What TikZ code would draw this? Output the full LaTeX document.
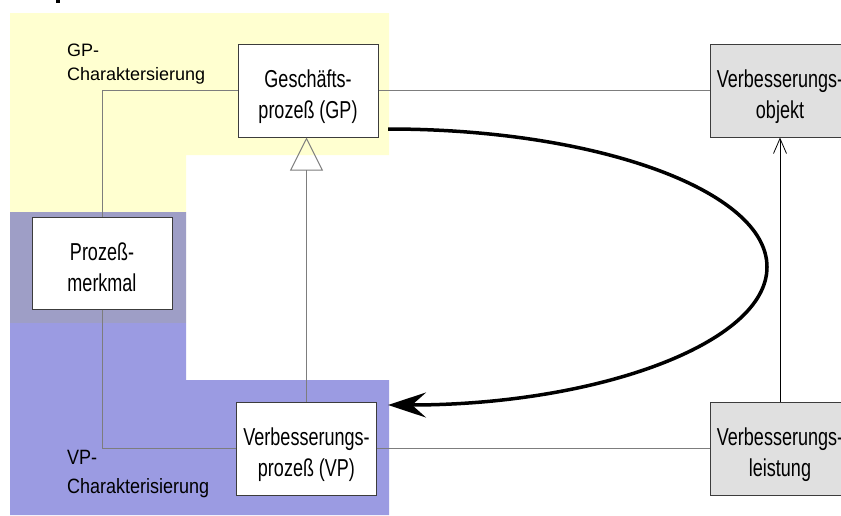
\documentclass[tikz,border=0pt]{standalone}
\usepackage{fontspec}
\setmainfont{Liberation Sans}
\usetikzlibrary{arrows.meta}
\definecolor{ylw}{RGB}{255,255,208}
\definecolor{blu}{RGB}{155,155,226}
\definecolor{ovl}{RGB}{158,158,198}
\definecolor{gboxfill}{RGB}{224,224,224}
\definecolor{boxline}{RGB}{60,60,60}
\definecolor{connline}{RGB}{125,125,125}
\newcommand\tallt[1]{\scalebox{1}[1.36]{#1}}
\newcommand\midt[1]{\scalebox{1}[1.15]{#1}}
\newcommand\topstrut{\rule{0pt}{30pt}}
\newcommand\botstrut{\rule[-5pt]{0pt}{5pt}}
\begin{document}
\begin{tikzpicture}[x=1pt,y=-1pt,
  every node/.style={font=\fontsize{18}{31}\selectfont},
  whitebox/.style={draw=boxline, line width=1pt, fill=white, minimum width=140pt, minimum height=93pt, align=center, inner sep=0pt},
  graybox/.style={whitebox, fill=gboxfill},
  conn/.style={draw=connline, line width=1pt},
  lbl/.style={anchor=base west, inner sep=0pt}
]
\useasboundingbox (0,0) rectangle (841,515);
\clip (0,0) rectangle (841,515);
% regions
\fill[ylw] (10,13) -- (389,13) -- (389,155) -- (186,155) -- (186,323) -- (10,323) -- cycle;
\fill[blu] (10,212) -- (186,212) -- (186,380) -- (389,380) -- (389,515) -- (10,515) -- cycle;
\fill[ovl] (10,212) rectangle (186,323);
% cut-off glyph at top
\fill[black] (56,0) rectangle (60,3);
% boxes
\node[whitebox] (gp) at (308,90.5) {\topstrut\tallt{Geschäfts-}\\\tallt{prozeß (GP)}\botstrut};
\node[whitebox, minimum height=92pt] (pm) at (102,263) {\topstrut\tallt{Prozeß-}\\\tallt{merkmal}\botstrut};
\node[whitebox] (vp) at (306.5,448.5) {\topstrut\tallt{Verbesserungs-}\\\tallt{prozeß (VP)}\botstrut};
\node[graybox] (vo) at (780,90.5) {\topstrut\tallt{Verbesserungs-}\\\tallt{objekt}\botstrut};
\node[graybox] (vl) at (780,448.5) {\topstrut\tallt{Verbesserungs-}\\\tallt{leistung}\botstrut};
% labels
\node[lbl] (gpl1) at (67,56.5) {GP-};
\node[lbl] (gpl2) at (67,80.5) {Charaktersierung};
\node[lbl] (vpl1) at (67,464) {\midt{VP-}};
\node[lbl] (vpl2) at (67,493) {\midt{Charakterisierung}};
% connectors
\draw[conn] (gp.west) -| (pm.north);
\draw[conn] (gp.east) -- (vo.west);
\draw[conn] (pm.south) |- (vp.west);
\draw[conn] (vp.east) -- (vl.west);
\draw[conn, -{Triangle[open, length=33pt, width=33pt, line width=1pt]}] (vp.north) -- (vp.north |- gp.south);
\draw[black, line width=0.8pt, -{Straight Barb[length=15pt, width=13pt, line width=0.8pt]}] (vl.north) -- (vo.south);
% thick curved arrow
\coordinate (cstart) at (388,129);
\draw[black, line width=3.5pt, -{Stealth[length=38pt, width=25pt, inset=14pt]}] (cstart) arc[start angle=90, end angle=-90, x radius=379pt, y radius=138pt];
\end{tikzpicture}
\end{document}
